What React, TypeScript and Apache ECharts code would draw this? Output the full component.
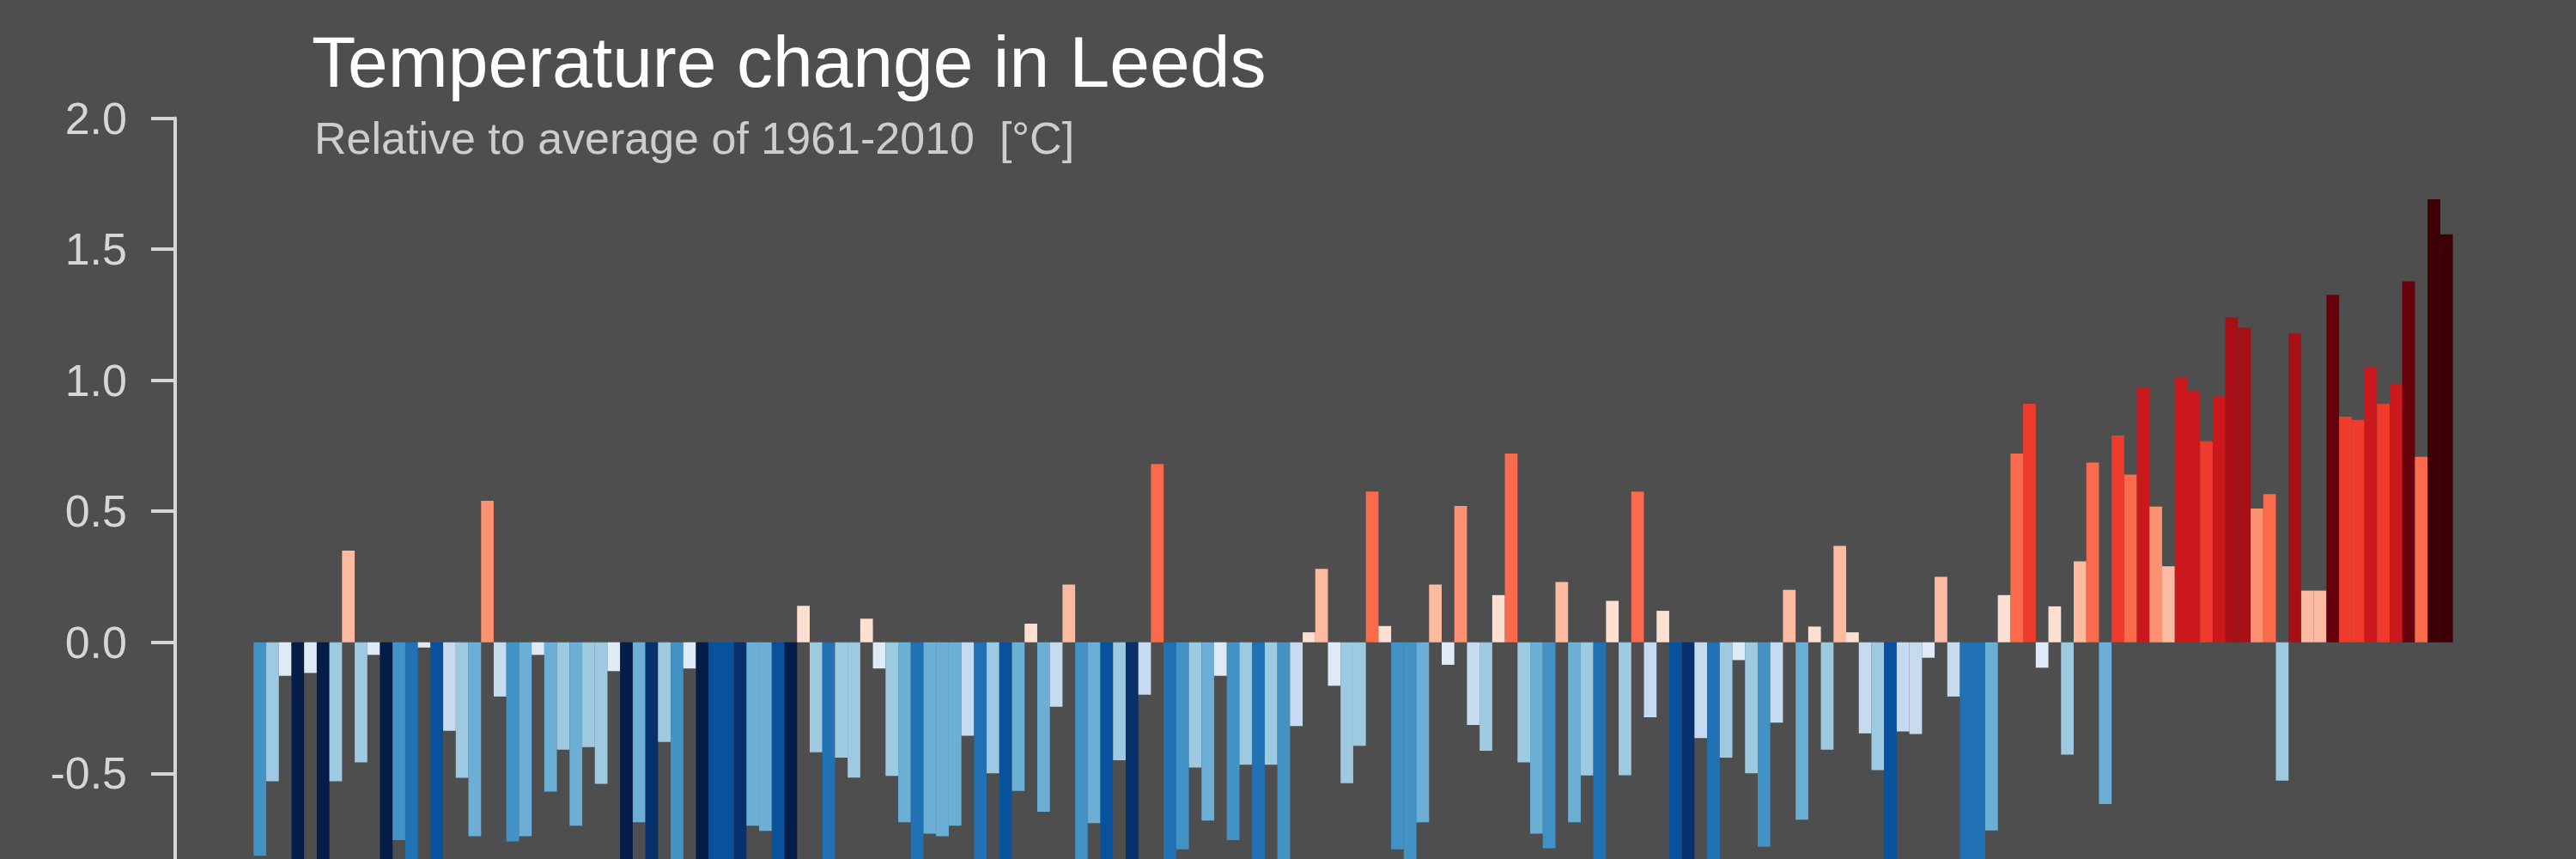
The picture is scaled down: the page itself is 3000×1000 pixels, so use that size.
import React, { useEffect, useRef } from "react";
import * as echarts from "echarts";

// Annual temperature anomaly for Leeds relative to 1961-2010 [°C], 1850-2023
const START_YEAR = 1850;
const anomalies: number[] = [
  -0.815, -0.53, -0.128, -1.6, -0.117, -1.62, -0.53, 0.35, -0.458, -0.048,
  -1.58, -0.755, -1.03, -0.02, -1.22, -0.338, -0.517, -0.74, 0.54, -0.207,
  -0.76, -0.74, -0.048, -0.57, -0.41, -0.7, -0.4, -0.54, -0.11, -1.6,
  -0.687, -1.4, -0.38, -0.88, -0.1, -1.55, -1.2, -1.22, -1.4, -0.7,
  -0.72, -1.2, -1.6, 0.139, -0.42, -1.0, -0.44, -0.516, 0.09, -0.1,
  -0.51, -0.687, -1.05, -0.73, -0.74, -0.7, -0.357, -1.0, -0.5, -1.2,
  -0.567, 0.071, -0.647, -0.246, 0.22, -0.88, -0.69, -1.18, -0.45, -1.38,
  -0.2, 0.68, -1.0, -0.79, -0.478, -0.68, -0.128, -0.755, -0.467, -0.98,
  -0.467, -0.9, -0.32, 0.038, 0.28, -0.166, -0.538, -0.395, 0.575, 0.062,
  -0.79, -0.88, -0.687, 0.22, -0.086, 0.52, -0.316, -0.414, 0.18, 0.72,
  -0.458, -0.73, -0.786, 0.23, -0.687, -0.508, -1.0, 0.158, -0.507, 0.575,
  -0.286, 0.12, -1.2, -1.4, -0.366, -1.0, -0.44, -0.068, -0.5, -0.78,
  -0.307, 0.2, -0.677, 0.06, -0.41, 0.368, 0.038, -0.348, -0.488, -1.15,
  -0.34, -0.35, -0.059, 0.25, -0.207, -1.0, -1.05, -0.718, 0.18, 0.72,
  0.91, -0.097, 0.137, -0.429, 0.309, 0.686, -0.617, 0.789, 0.64, 0.973,
  0.518, 0.29, 1.01, 0.96, 0.767, 0.94, 1.24, 1.2, 0.51, 0.565,
  -0.528, 1.178, 0.197, 0.197, 1.326, 0.861, 0.849, 1.048, 0.909, 0.986,
  1.377, 0.708, 1.69, 1.557,
];
const years: string[] = anomalies.map((_, i) => String(START_YEAR + i));

// Tick labels visible in the picture (the axis continues below the frame)
const visibleTickLabels: string[] = ["2.0", "1.5", "1.0", "0.5", "0.0", "-0.5"];

const TITLE = "Temperature change in Leeds";
const SUBTITLE = "Relative to average of 1961-2010  [°C]";

const BG = "#4e4e4e";
const FONT = "'Liberation Sans', Arial, Helvetica, sans-serif";
const AXIS_COLOR = "#d6d6d6";

export default function App() {
  const ref = useRef<HTMLDivElement>(null);

  useEffect(() => {
    if (!ref.current) return;
    const chart = echarts.init(ref.current, undefined, { renderer: "svg" });
    chart.setOption({
      animation: false,
      backgroundColor: BG,
      grid: { left: 295.3, right: 143.4, top: 137.5, bottom: 47.2, containLabel: false },
      xAxis: {
        type: "category",
        data: years,
        show: false,
        boundaryGap: true,
      },
      yAxis: {
        type: "value",
        min: -1,
        max: 2,
        interval: 0.5,
        offset: 91.3,
        axisLine: { show: true, lineStyle: { color: AXIS_COLOR, width: 4 } },
        axisTick: { show: true, inside: false, length: 28, lineStyle: { color: AXIS_COLOR, width: 4 } },
        axisLabel: {
          show: true,
          margin: 56,
          fontSize: 52,
          color: AXIS_COLOR,
          fontFamily: FONT,
          formatter: (v: number) => {
            const s = v.toFixed(1);
            return visibleTickLabels.indexOf(s) >= 0 ? s : "";
          },
        },
        splitLine: { show: false },
      },
      visualMap: {
        type: "piecewise",
        show: false,
        seriesIndex: 0,
        pieces: [
          { lt: -1.5, color: "#041d49" },
          { gte: -1.5, lt: -1.3125, color: "#08306b" },
          { gte: -1.3125, lt: -1.125, color: "#08519c" },
          { gte: -1.125, lt: -0.9375, color: "#2171b5" },
          { gte: -0.9375, lt: -0.75, color: "#4292c6" },
          { gte: -0.75, lt: -0.5625, color: "#6baed6" },
          { gte: -0.5625, lt: -0.375, color: "#9ecae1" },
          { gte: -0.375, lt: -0.1875, color: "#c6dbef" },
          { gte: -0.1875, lt: 0, color: "#deebf7" },
          { gte: 0, lt: 0.1875, color: "#fee0d2" },
          { gte: 0.1875, lt: 0.375, color: "#fcbba1" },
          { gte: 0.375, lt: 0.5625, color: "#fc9272" },
          { gte: 0.5625, lt: 0.75, color: "#fb6a4a" },
          { gte: 0.75, lt: 0.9375, color: "#ef3b2c" },
          { gte: 0.9375, lt: 1.125, color: "#cb181d" },
          { gte: 1.125, lt: 1.3125, color: "#a50f15" },
          { gte: 1.3125, lt: 1.5, color: "#67000d" },
          { gte: 1.5, color: "#3d0006" },
        ],
      },
      graphic: [
        {
          type: "text",
          x: 363,
          y: 72.2,
          style: {
            text: TITLE,
            fontSize: 84,
            fontFamily: FONT,
            fill: "#ffffff",
            align: "left",
            verticalAlign: "middle",
          },
        },
        {
          type: "text",
          x: 366,
          y: 161,
          style: {
            text: SUBTITLE,
            fontSize: 52,
            fontFamily: FONT,
            fill: "#cdcdcd",
            align: "left",
            verticalAlign: "middle",
          },
        },
      ],
      series: [
        {
          type: "bar",
          data: anomalies,
          barCategoryGap: "0%",
          barGap: "0%",
          clip: true,
          itemStyle: { borderWidth: 0 },
        },
      ],
    });
    return () => chart.dispose();
  }, []);

  return (
    <div
      style={{
        position: "fixed",
        left: 0,
        top: 0,
        width: 3000,
        height: 1000,
        overflow: "hidden",
        background: BG,
      }}
    >
      <div ref={ref} style={{ width: 3000, height: 1100 }} />
    </div>
  );
}
